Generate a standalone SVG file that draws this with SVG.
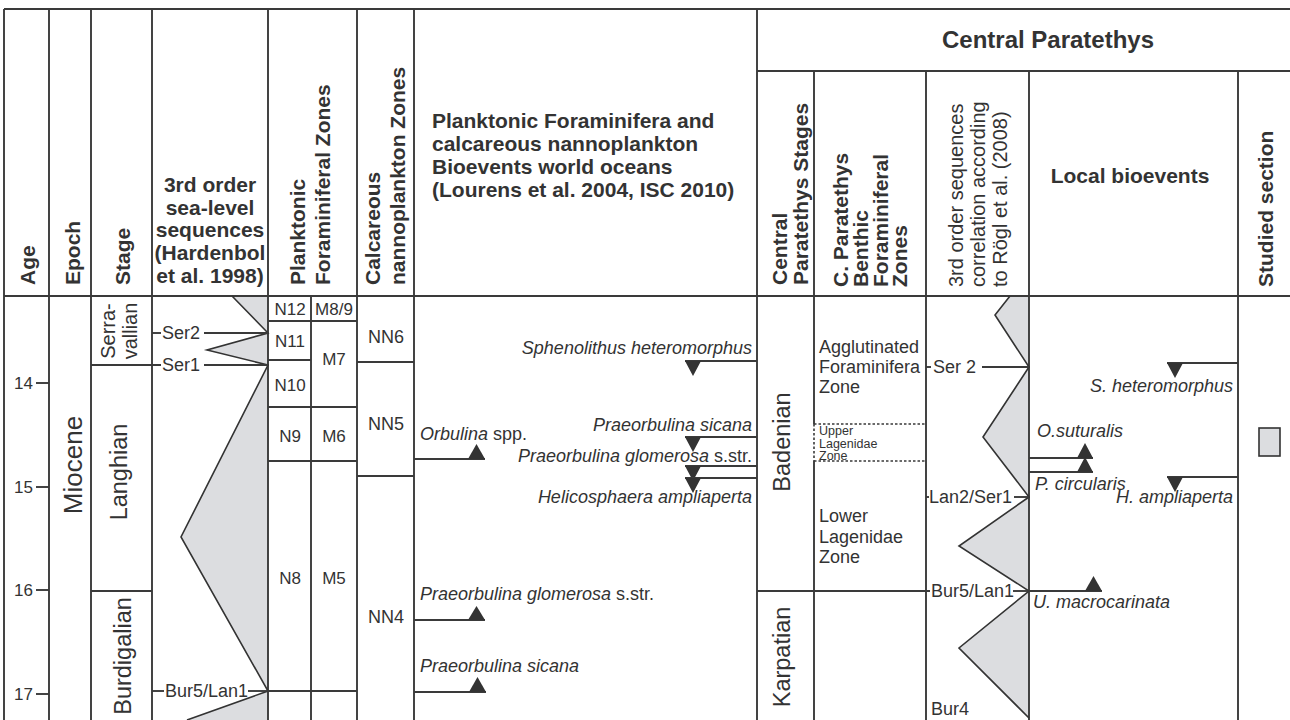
<svg xmlns="http://www.w3.org/2000/svg" width="1290" height="720" viewBox="0 0 1290 720">
<defs>
<style>
.ln{stroke:#3a3a3a;stroke-width:1.9;fill:none}
.dot{stroke:#3a3a3a;stroke-width:1.6;fill:none;stroke-dasharray:2.5 2}
.g{fill:#dcdde0;stroke:none}
.zz{stroke:#333;stroke-width:1.6;fill:none;stroke-linejoin:miter}
.tri{fill:#333}
text{font-family:"Liberation Sans",Arial,Helvetica,sans-serif;fill:#333}
.h{font-size:21px;font-weight:bold}
.hr{font-size:20px}
.t{font-size:18px}
.z{font-size:17px;text-anchor:middle}
.i{font-size:18px;font-style:italic}
.up{font-style:normal}
.r{text-anchor:end}
.m{text-anchor:middle}
</style>
</defs>
<rect width="1290" height="720" fill="#fff"/>

<g id="fills">
<polygon class="g" points="232,296 268,333 207,350 268,365 181,537 268,691 187,720 268,720 268,296"/>
<polygon class="g" points="1010,296 995,315 1029,367 983,437 1029,497 959,546 1029,591 959,648 1029,718 1029,296"/>
<rect class="g" x="1259" y="428" width="21" height="28" style="stroke:#333;stroke-width:1.6"/>
</g>

<g id="grid">
<line class="ln" x1="4" y1="9" x2="1290" y2="9"/>
<line class="ln" x1="4" y1="296" x2="1290" y2="296"/>
<line class="ln" x1="757" y1="71" x2="1290" y2="71"/>
<line class="ln" x1="4" y1="9" x2="4" y2="720"/>
<line class="ln" x1="49" y1="9" x2="49" y2="720"/>
<line class="ln" x1="91" y1="9" x2="91" y2="720"/>
<line class="ln" x1="152" y1="9" x2="152" y2="720"/>
<line class="ln" x1="268" y1="9" x2="268" y2="720"/>
<line class="ln" x1="311" y1="296" x2="311" y2="720"/>
<line class="ln" x1="357" y1="9" x2="357" y2="720"/>
<line class="ln" x1="414" y1="9" x2="414" y2="720"/>
<line class="ln" x1="757" y1="9" x2="757" y2="720"/>
<line class="ln" x1="814" y1="71" x2="814" y2="424"/>
<line class="dot" x1="814" y1="424" x2="814" y2="461"/>
<line class="ln" x1="814" y1="461" x2="814" y2="720"/>
<line class="ln" x1="926" y1="71" x2="926" y2="720"/>
<line class="ln" x1="1029" y1="71" x2="1029" y2="720"/>
<line class="ln" x1="1238" y1="71" x2="1238" y2="720"/>
</g>

<g id="headers">
<text class="h" transform="translate(35,285) rotate(-90)">Age</text>
<text class="h" transform="translate(80,285) rotate(-90)">Epoch</text>
<text class="h" transform="translate(130,285) rotate(-90)">Stage</text>
<text class="h m" x="210" y="192">3rd order</text>
<text class="h m" x="210" y="215">sea-level</text>
<text class="h m" x="210" y="237">sequences</text>
<text class="h m" x="210" y="260">(Hardenbol</text>
<text class="h m" x="210" y="283">et al. 1998)</text>
<text class="h" transform="translate(305,285) rotate(-90)">Planktonic</text>
<text class="h" transform="translate(330,285) rotate(-90)">Foraminiferal Zones</text>
<text class="h" transform="translate(380,285) rotate(-90)">Calcareous</text>
<text class="h" transform="translate(405,285) rotate(-90)">nannoplankton Zones</text>
<text class="h" x="432" y="128">Planktonic Foraminifera and</text>
<text class="h" x="432" y="151">calcareous nannoplankton</text>
<text class="h" x="432" y="174">Bioevents world oceans</text>
<text class="h" x="432" y="197">(Lourens et al. 2004, ISC 2010)</text>
<text class="h m" x="1048" y="48" style="font-size:24px">Central Paratethys</text>
<text class="h" transform="translate(787,285) rotate(-90)">Central</text>
<text class="h" transform="translate(808,285) rotate(-90)">Paratethys Stages</text>
<text class="h" transform="translate(848,287) rotate(-90)">C. Paratethys</text>
<text class="h" transform="translate(868,287) rotate(-90)">Benthic</text>
<text class="h" transform="translate(888,287) rotate(-90)">Foraminiferal</text>
<text class="h" transform="translate(907,287) rotate(-90)">Zones</text>
<text class="hr" transform="translate(963,287) rotate(-90)">3rd order sequences</text>
<text class="hr" transform="translate(985,287) rotate(-90)">correlation according</text>
<text class="hr" transform="translate(1007,287) rotate(-90)">to Rögl et al. (2008)</text>
<text class="h m" x="1130" y="183">Local bioevents</text>
<text class="h" transform="translate(1273,287) rotate(-90)">Studied section</text>
</g>

<g id="age">
<line class="ln" x1="36" y1="383" x2="49" y2="383"/>
<line class="ln" x1="36" y1="487" x2="49" y2="487"/>
<line class="ln" x1="36" y1="590" x2="49" y2="590"/>
<line class="ln" x1="36" y1="694" x2="49" y2="694"/>
<text class="t r" x="33" y="389" style="font-size:17px">14</text>
<text class="t r" x="33" y="493" style="font-size:17px">15</text>
<text class="t r" x="33" y="596" style="font-size:17px">16</text>
<text class="t r" x="33" y="700" style="font-size:17px">17</text>
</g>

<g id="epoch">
<text class="m" transform="translate(82,465) rotate(-90)" style="font-size:26px">Miocene</text>
</g>

<g id="stage">
<line class="ln" x1="91" y1="591" x2="152" y2="591"/>
<text class="m" transform="translate(115,331) rotate(-90)" style="font-size:20px">Serra-</text>
<text class="m" transform="translate(137,331) rotate(-90)" style="font-size:20px">vallian</text>
<text class="m" transform="translate(127,472) rotate(-90)" style="font-size:23.5px">Langhian</text>
<text class="m" transform="translate(131,656) rotate(-90)" style="font-size:23.5px">Burdigalian</text>
</g>

<g id="sealevel">
<polyline class="zz" points="232,296 268,333 207,350 268,365 181,537 268,691 187,720"/>
<line class="ln" x1="152" y1="333" x2="161" y2="333"/>
<line class="ln" x1="204" y1="333" x2="268" y2="333"/>
<line class="ln" x1="91" y1="365" x2="161" y2="365"/>
<line class="ln" x1="204" y1="365" x2="268" y2="365"/>
<line class="ln" x1="152" y1="691" x2="164" y2="691"/>
<line class="ln" x1="248" y1="691" x2="268" y2="691"/>
<text class="t" x="162" y="339">Ser2</text>
<text class="t" x="162" y="371">Ser1</text>
<text class="t" x="165" y="697">Bur5/Lan1</text>
</g>

<g id="pf-zones">
<line class="ln" x1="268" y1="321" x2="357" y2="321"/>
<line class="ln" x1="268" y1="360" x2="311" y2="360"/>
<line class="ln" x1="268" y1="407" x2="357" y2="407"/>
<line class="ln" x1="268" y1="461" x2="357" y2="461"/>
<line class="ln" x1="268" y1="691" x2="357" y2="691"/>
<text class="z" x="290" y="315">N12</text>
<text class="z" x="334" y="315">M8/9</text>
<text class="z" x="290" y="347">N11</text>
<text class="z" x="334" y="365">M7</text>
<text class="z" x="290" y="391">N10</text>
<text class="z" x="290" y="442">N9</text>
<text class="z" x="334" y="442">M6</text>
<text class="z" x="290" y="584">N8</text>
<text class="z" x="334" y="584">M5</text>
</g>

<g id="nn-zones">
<line class="ln" x1="357" y1="362" x2="414" y2="362"/>
<line class="ln" x1="357" y1="476" x2="414" y2="476"/>
<text class="z" x="386" y="343" style="font-size:18px">NN6</text>
<text class="z" x="386" y="430" style="font-size:18px">NN5</text>
<text class="z" x="386" y="623" style="font-size:18px">NN4</text>
</g>

<g id="world-bioevents">
<line class="ln" x1="685" y1="361" x2="757" y2="361"/>
<polygon class="tri" points="685,361 701,361 693,376"/>
<text class="i r" x="752" y="354">Sphenolithus heteromorphus</text>
<line class="ln" x1="685" y1="437" x2="757" y2="437"/>
<polygon class="tri" points="685,437 701,437 693,452"/>
<text class="i r" x="752" y="431">Praeorbulina sicana</text>
<line class="ln" x1="685" y1="466" x2="757" y2="466"/>
<polygon class="tri" points="685,466 701,466 693,481"/>
<text class="i r" x="752" y="462">Praeorbulina glomerosa<tspan class="up"> s.str.</tspan></text>
<line class="ln" x1="685" y1="478" x2="757" y2="478"/>
<polygon class="tri" points="685,478 701,478 693,493"/>
<text class="i r" x="752" y="503">Helicosphaera ampliaperta</text>
<line class="ln" x1="414" y1="459" x2="485" y2="459"/>
<polygon class="tri" points="468,459 485,459 476.5,444"/>
<text class="i" x="420" y="440">Orbulina<tspan class="up"> spp.</tspan></text>
<line class="ln" x1="414" y1="620" x2="485" y2="620"/>
<polygon class="tri" points="468,620 485,620 476.5,606"/>
<text class="i" x="420" y="600">Praeorbulina glomerosa<tspan class="up"> s.str.</tspan></text>
<line class="ln" x1="414" y1="692" x2="486" y2="692"/>
<polygon class="tri" points="469,692 486,692 477.5,677"/>
<text class="i" x="420" y="672">Praeorbulina sicana</text>
</g>

<g id="cp-stages">
<text class="m" transform="translate(790,442) rotate(-90)" style="font-size:23.5px">Badenian</text>
<text class="m" transform="translate(790,657) rotate(-90)" style="font-size:23.5px">Karpatian</text>
<line class="ln" x1="757" y1="591" x2="930" y2="591"/>
</g>

<g id="benthic-zones">
<text class="t" x="819" y="353">Agglutinated</text>
<text class="t" x="819" y="373">Foraminifera</text>
<text class="t" x="819" y="393">Zone</text>
<line class="dot" x1="814" y1="424" x2="926" y2="424"/>
<line class="dot" x1="814" y1="461" x2="926" y2="461"/>
<text x="819" y="435" style="font-size:12.5px">Upper</text>
<text x="819" y="447.5" style="font-size:12.5px">Lagenidae</text>
<text x="819" y="459.5" style="font-size:12.5px">Zone</text>
<text class="t" x="819" y="522">Lower</text>
<text class="t" x="819" y="543">Lagenidae</text>
<text class="t" x="819" y="563">Zone</text>
</g>

<g id="cp-sequences">
<polyline class="zz" points="1010,296 995,315 1029,367 983,437 1029,497 959,546 1029,591 959,648 1029,718"/>
<line class="ln" x1="926" y1="367" x2="931" y2="367"/>
<line class="ln" x1="982" y1="367" x2="1029" y2="367"/>
<text class="t" x="933" y="373">Ser 2</text>
<line class="ln" x1="926" y1="497" x2="929" y2="497"/>
<line class="ln" x1="1014" y1="497" x2="1029" y2="497"/>
<text class="t" x="929" y="503">Lan2/Ser1</text>
<line class="ln" x1="1013" y1="591" x2="1029" y2="591"/>
<text class="t" x="931" y="597">Bur5/Lan1</text>
<text class="t" x="931" y="715">Bur4</text>
</g>

<g id="local-bioevents">
<line class="ln" x1="1167" y1="363" x2="1238" y2="363"/>
<polygon class="tri" points="1167,363 1183,363 1175,378"/>
<text class="i r" x="1233" y="392">S. heteromorphus</text>
<line class="ln" x1="1029" y1="458" x2="1093" y2="458"/>
<polygon class="tri" points="1077,458 1093,458 1085,443"/>
<text class="i" x="1037" y="437">O.suturalis</text>
<line class="ln" x1="1029" y1="472" x2="1093" y2="472"/>
<polygon class="tri" points="1077,472 1093,472 1085,457"/>
<text class="i" x="1035" y="490">P. circularis</text>
<line class="ln" x1="1167" y1="477" x2="1238" y2="477"/>
<polygon class="tri" points="1167,477 1183,477 1175,492"/>
<text class="i r" x="1233" y="503">H. ampliaperta</text>
<line class="ln" x1="1029" y1="591" x2="1102" y2="591"/>
<polygon class="tri" points="1085,591 1102,591 1093.5,576"/>
<text class="i" x="1033" y="608">U. macrocarinata</text>
</g>
</svg>
